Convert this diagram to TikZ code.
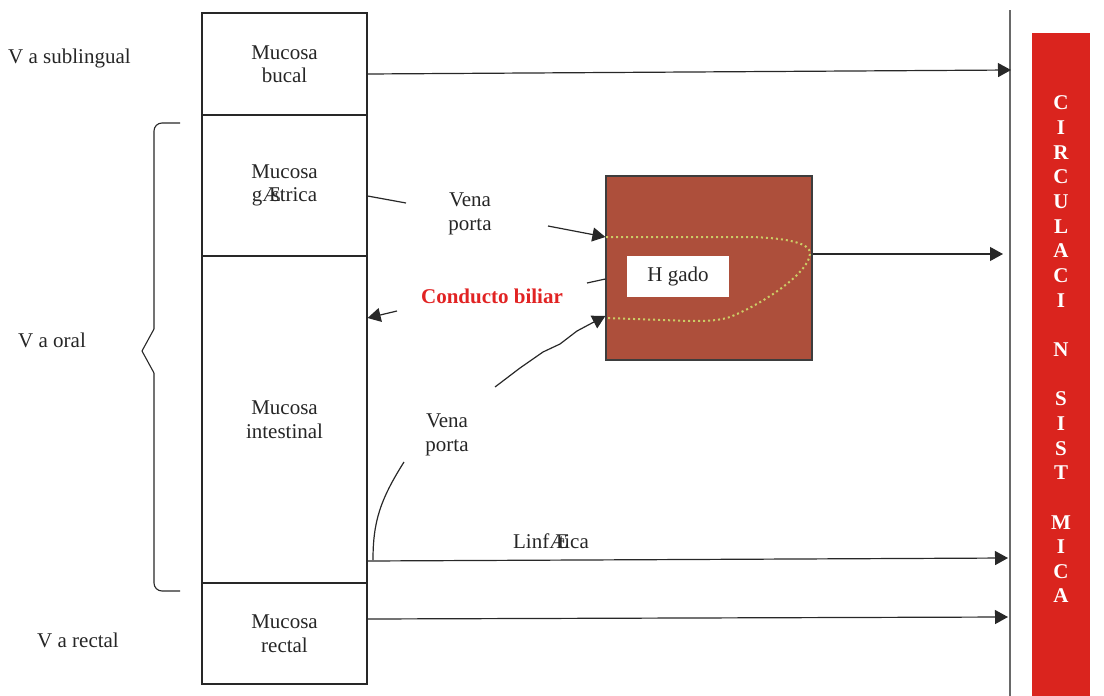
\documentclass[tikz,border=0pt]{standalone}
\usepackage{fontspec}
\setmainfont{Liberation Serif}
\usetikzlibrary{arrows.meta}
\definecolor{liverc}{RGB}{173,79,59}
\definecolor{barred}{RGB}{218,36,30}
\definecolor{bilred}{RGB}{225,35,35}
\definecolor{dotc}{RGB}{204,204,102}
\definecolor{ln}{RGB}{40,40,40}
\definecolor{sysln}{RGB}{105,105,105}
\begin{document}
\begin{tikzpicture}[x=1pt,y=-1pt,
  txt/.style={font=\fontsize{21}{23.5}\selectfont, inner sep=0pt, text=black!85},
  seg/.style={txt, draw=ln, line width=1.2pt, minimum width=165pt, align=center},
  conn/.style={draw=ln, line width=1.2pt},
  arr/.style={conn, -{Triangle[length=13pt,width=14pt]}},
  lbl/.style={txt, align=center, anchor=base}]
\useasboundingbox (0,0) rectangle (1104,696);
% column of mucosae
\node[seg, minimum height=102pt] (bucal) at (284.5,64) {Mucosa\\bucal};
\node[seg, minimum height=141pt] (gastrica) at (284.5,185.5) {Mucosa\\g\makebox[0.44em][l]{Æ}strica};
\node[seg, minimum height=327pt] (intestinal) at (284.5,419.5) {Mucosa\\intestinal};
\node[seg, minimum height=101pt] (rectal) at (284.5,633.5) {Mucosa\\rectal};
% left labels
\node[txt, anchor=base west] (vsub) at (8,63) {V a sublingual};
\node[txt, anchor=base west] (voral) at (18,347) {V a oral};
\node[txt, anchor=base west] (vrect) at (37,647) {V a rectal};
% brace
\draw[ln, line width=1.1pt, rounded corners=8pt] (180,123) -- (154,123) -- (154,329);
\draw[ln, line width=1.1pt] (154,329) -- (142,351) -- (154,373);
\draw[ln, line width=1.1pt, rounded corners=8pt] (154,373) -- (154,591) -- (180,591);
% systemic line and bar
\coordinate (sysTop) at (1010,10);
\coordinate (sysBot) at (1010,696);
\draw[sysln, line width=2pt] (sysTop) -- (sysBot);
\node[fill=barred, minimum width=58pt, minimum height=663pt, inner sep=0pt] (bar) at (1061,364.5) {};
\node[font=\fontsize{21}{24.65}\selectfont\bfseries, text=white, align=center, inner sep=0pt] (circ) at (1061,349.5)
  {C\\I\\R\\C\\U\\L\\A\\C\\I\\\mbox{}\\N\\\mbox{}\\S\\I\\S\\T\\\mbox{}\\M\\I\\C\\A};
% liver
\node[fill=liverc, draw=ln!90, line width=1.2pt, minimum width=206pt, minimum height=184pt, inner sep=0pt] (liver) at (709,268) {};
\draw[dotc, line width=2pt, dash pattern=on 2pt off 3pt]
  (606,237) -- (750,237) .. controls (790,238) and (810,244) .. (810,253)
  .. controls (810,272) and (765,303) .. (730,317)
  .. controls (718,321) and (705,321) .. (690,321) -- (606,318);
\node[txt, fill=white, minimum width=102pt, minimum height=41pt] (higado) at (678,276.5) {H gado};
% end coordinates
\coordinate (e1) at (1011,70);
\coordinate (e2) at (1003,254);
\coordinate (e3) at (1008,558);
\coordinate (e4) at (1008,617);
\coordinate (g1) at (406,203);
\coordinate (vp1) at (548,226);
\coordinate (b1) at (587,283);
\coordinate (b2) at (397,311);
\coordinate (lv0) at (373,560);
\coordinate (lv1) at (404,462);
\coordinate (lv2) at (495,387);
% arrows to systemic circulation
\draw[arr] ([yshift=-10pt]bucal.east) -- (e1);
\draw[arr] ([yshift=14pt]liver.east) -- (e2);
\draw[arr] ([yshift=-141.5pt]intestinal.east) -- (e3);
\draw[arr] ([yshift=14.5pt]rectal.east) -- (e4);
% portal vein from stomach
\draw[conn] ([yshift=-10.5pt]gastrica.east) -- (g1);
\draw[arr] (vp1) -- ([yshift=31pt]liver.west);
\node[lbl] (vena1) at (470,230) {Vena\\porta};
% bile duct
\draw[conn] ([yshift=-11pt]liver.west) -- (b1);
\draw[arr] (b2) -- ([yshift=101.5pt]intestinal.east);
\node[txt, anchor=base, font=\fontsize{21}{23.5}\selectfont\bfseries, text=bilred] (bil) at (492,303) {Conducto biliar};
% portal vein from intestine
\draw[conn] (lv0) .. controls (373,522) and (380,500) .. (lv1);
\draw[arr] (lv2) -- (520,368) -- (543,352) -- (560,344) -- (577,331) -- (592,323) -- ([yshift=-48pt]liver.west);
\node[lbl] (vena2) at (447,451) {Vena\\porta};
\node[txt, anchor=base] (linf) at (551,548) {Linf\makebox[0.44em][l]{Æ}tica};
\end{tikzpicture}
\end{document}
